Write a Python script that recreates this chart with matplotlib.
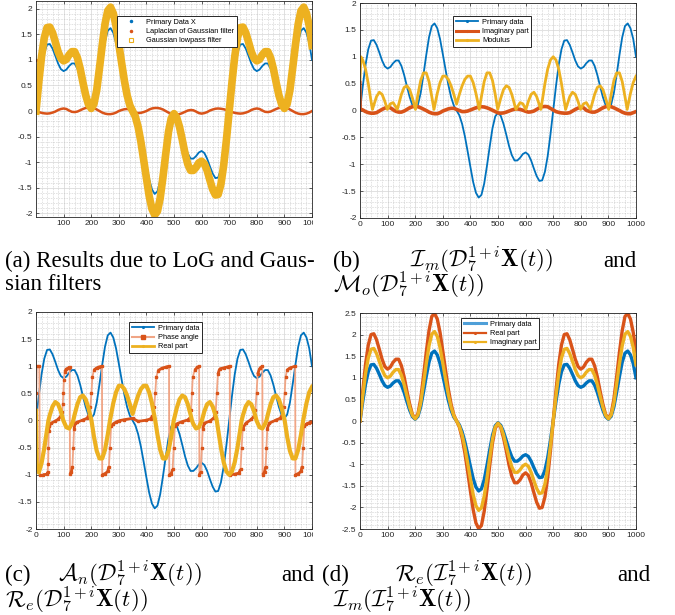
import numpy as np
import matplotlib
matplotlib.use("Agg")
import matplotlib.pyplot as plt
from matplotlib.lines import Line2D
from matplotlib.collections import LineCollection
from matplotlib.ticker import MultipleLocator, FuncFormatter
from matplotlib.transforms import Bbox, TransformedBbox

plt.rcParams['mathtext.fontset'] = 'cm'
plt.rcParams['axes.unicode_minus'] = False
plt.rcParams['font.family'] = ['Liberation Sans', 'DejaVu Sans']

# ---------------- data ----------------
T10 = list(range(0, 1001, 10))

primary = [
    0.00, 0.45, 0.85, 1.14, 1.30, 1.31, 1.22, 1.08, 0.93, 0.82,
    0.78, 0.81, 0.88, 0.93, 0.93, 0.83, 0.66, 0.45, 0.25, 0.10,
    0.04, 0.11, 0.33, 0.67, 1.03, 1.36, 1.57, 1.62, 1.53, 1.33,
    1.05, 0.76, 0.48, 0.25, 0.09, 0.00, -0.09, -0.25, -0.48, -0.76,
    -1.05, -1.33, -1.53, -1.62, -1.57, -1.36, -1.03, -0.67, -0.33, -0.11,
    -0.04, -0.10, -0.25, -0.45, -0.66, -0.83, -0.93, -0.93, -0.88, -0.81,
    -0.78, -0.82, -0.93, -1.08, -1.22, -1.31, -1.30, -1.14, -0.85, -0.45,
    0.00, 0.45, 0.85, 1.14, 1.30, 1.31, 1.22, 1.08, 0.93, 0.82,
    0.78, 0.81, 0.88, 0.93, 0.93, 0.83, 0.66, 0.45, 0.25, 0.10,
    0.04, 0.11, 0.33, 0.67, 1.03, 1.36, 1.57, 1.62, 1.53, 1.33,
    1.00]

gauss_lp = [
    0.00, 0.56, 1.06, 1.43, 1.63, 1.64, 1.53, 1.35, 1.16, 1.03,
    0.98, 1.01, 1.10, 1.16, 1.16, 1.04, 0.83, 0.56, 0.31, 0.13,
    0.05, 0.14, 0.41, 0.84, 1.29, 1.70, 1.96, 2.03, 1.91, 1.66,
    1.31, 0.95, 0.60, 0.31, 0.11, 0.00, -0.11, -0.31, -0.60, -0.95,
    -1.31, -1.66, -1.91, -2.03, -1.96, -1.70, -1.29, -0.84, -0.41, -0.14,
    -0.05, -0.13, -0.31, -0.56, -0.83, -1.04, -1.16, -1.16, -1.10, -1.01,
    -0.98, -1.03, -1.16, -1.35, -1.53, -1.64, -1.63, -1.43, -1.06, -0.56,
    0.00, 0.56, 1.06, 1.43, 1.63, 1.64, 1.53, 1.35, 1.16, 1.03,
    0.98, 1.01, 1.10, 1.16, 1.16, 1.04, 0.83, 0.56, 0.31, 0.13,
    0.05, 0.14, 0.41, 0.84, 1.29, 1.70, 1.96, 2.03, 1.91, 1.66,
    1.28]

log_filter = [
    0.00, -0.02, -0.035, -0.045, -0.05, -0.045, -0.03, -0.01, 0.02, 0.04,
    0.05, 0.04, 0.01, -0.015, -0.02, -0.01, 0.015, 0.04, 0.06, 0.07,
    0.07, 0.06, 0.03, 0.0, -0.03, -0.05, -0.06, -0.06, -0.05, -0.03,
    0.0, 0.02, 0.035, 0.04, 0.03, 0.0, -0.03, -0.04, -0.035, -0.02,
    0.0, 0.03, 0.05, 0.06, 0.06, 0.05, 0.03, 0.0, -0.03, -0.06,
    -0.07, -0.07, -0.06, -0.04, -0.015, 0.01, 0.02, 0.015, -0.01, -0.04,
    -0.05, -0.04, -0.02, 0.01, 0.03, 0.045, 0.05, 0.045, 0.035, 0.02,
    0.0, -0.02, -0.035, -0.045, -0.05, -0.045, -0.03, -0.01, 0.02, 0.04,
    0.05, 0.04, 0.01, -0.015, -0.02, -0.01, 0.015, 0.04, 0.06, 0.07,
    0.07, 0.06, 0.03, 0.0, -0.03, -0.05, -0.06, -0.06, -0.05, -0.03,
    0.0]
log_start_t = [1, 2]
log_start_v = [1.0, 0.44]

imag_b = [
    0.03, 0.01, -0.02, -0.04, -0.05, -0.05, -0.04, -0.01, 0.02, 0.045,
    0.06, 0.05, 0.015, -0.015, -0.03, -0.03, -0.01, 0.02, 0.05, 0.07,
    0.08, 0.07, 0.05, 0.025, 0.0, -0.03, -0.05, -0.06, -0.06, -0.04,
    -0.01, 0.01, 0.03, 0.04, 0.04, 0.02, 0.0, -0.02, -0.02, -0.01,
    0.01, 0.03, 0.05, 0.065, 0.07, 0.065, 0.05, 0.03, 0.005, -0.02,
    -0.045, -0.05, -0.045, -0.03, -0.01, 0.01, 0.025, 0.03, 0.02, 0.005,
    -0.015, -0.03, -0.025, -0.01, 0.02, 0.05, 0.07, 0.075, 0.07, 0.04,
    0.01, -0.02, -0.035, -0.045, -0.05, -0.05, -0.04, -0.01, 0.02, 0.045,
    0.06, 0.05, 0.005, -0.015, -0.03, -0.03, -0.01, 0.02, 0.05, 0.07,
    0.08, 0.07, 0.05, 0.025, 0.0, -0.03, -0.05, -0.06, -0.06, -0.04,
    -0.02]
imag_b_start_t = [0, 1, 3]
imag_b_start_v = [0.03, 0.55, 0.03]

t_mc = [0, 3, 10, 20, 30, 40, 45, 50, 60, 70, 80, 90, 99, 110, 120, 130, 135,
        140, 150, 160, 170, 180, 190, 201, 210, 220, 230, 240, 250, 260, 268,
        280, 290, 300, 310, 320, 330, 340, 350, 360, 370, 380, 390, 400, 410,
        420, 432, 440, 450, 460, 470, 480, 490, 499, 510, 520, 530, 540, 550,
        560, 565, 570, 580, 590, 601, 610, 620, 630, 640, 650, 655, 660, 670,
        680, 690, 700, 710, 720, 730, 740, 745, 750, 760, 770, 780, 790, 799,
        810, 820, 830, 835, 840, 850, 860, 870, 880, 890, 901, 910, 920, 930,
        940, 950, 960, 968, 980, 990, 1000]
modulus = [0.58, 1.0, 0.94, 0.77, 0.50, 0.17, 0.02, 0.10, 0.26, 0.34, 0.30,
           0.17, 0.02, 0.125, 0.147, 0.064, 0.02, 0.11, 0.30, 0.43, 0.46, 0.39,
           0.23, 0.02, 0.30, 0.56, 0.70, 0.70, 0.54, 0.26, 0.02, 0.32, 0.52,
           0.64, 0.64, 0.58, 0.46, 0.30, 0.12, 0.30, 0.46, 0.58, 0.64, 0.64,
           0.52, 0.32, 0.02, 0.26, 0.54, 0.70, 0.70, 0.56, 0.30, 0.02, 0.23,
           0.39, 0.46, 0.43, 0.30, 0.11, 0.02, 0.064, 0.147, 0.125, 0.02, 0.17,
           0.30, 0.34, 0.26, 0.10, 0.02, 0.17, 0.50, 0.77, 0.94, 1.0, 0.94,
           0.77, 0.50, 0.17, 0.02, 0.10, 0.26, 0.34, 0.30, 0.17, 0.02, 0.125,
           0.147, 0.064, 0.02, 0.11, 0.30, 0.43, 0.46, 0.39, 0.23, 0.02, 0.30,
           0.56, 0.70, 0.70, 0.54, 0.26, 0.02, 0.32, 0.52, 0.64]
real_c = [0.18, -0.80, -0.96, -0.79, -0.51, -0.17, 0.0, 0.10, 0.26, 0.34, 0.30,
          0.17, 0.0, -0.125, -0.147, -0.064, 0.0, 0.11, 0.30, 0.43, 0.46, 0.39,
          0.23, 0.0, -0.30, -0.56, -0.70, -0.70, -0.54, -0.26, 0.0, 0.32, 0.52,
          0.64, 0.64, 0.58, 0.46, 0.30, 0.12, 0.30, 0.46, 0.58, 0.64, 0.64,
          0.52, 0.32, 0.0, -0.26, -0.54, -0.70, -0.70, -0.56, -0.30, 0.0, 0.23,
          0.39, 0.46, 0.43, 0.30, 0.11, 0.0, -0.064, -0.147, -0.125, 0.0, 0.17,
          0.30, 0.34, 0.26, 0.10, 0.0, -0.17, -0.50, -0.77, -0.94, -1.0, -0.94,
          -0.77, -0.50, -0.17, 0.0, 0.10, 0.26, 0.34, 0.30, 0.17, 0.0, -0.125,
          -0.147, -0.064, 0.0, 0.11, 0.30, 0.43, 0.46, 0.39, 0.23, 0.0, -0.30,
          -0.56, -0.70, -0.70, -0.54, -0.26, 0.0, 0.32, 0.52, 0.62]

phase_t = [0, 1, 3, 12, 14, 25, 40, 42, 44, 45, 46, 48, 55, 70, 80, 90, 95, 97,
           99, 101, 104, 110, 118, 122, 123, 128, 132, 135, 138, 142, 150, 170,
           185, 192, 197, 201, 204, 210, 220, 230, 239, 240, 250, 260, 264, 268,
           272, 280, 290, 300, 320, 350, 370, 400, 415, 422, 428, 432, 436, 442,
           455, 470, 482, 483, 490, 495, 499, 503, 510, 530, 550, 558, 562, 565,
           568, 575, 585, 591, 592, 597, 601, 604, 610, 630, 645, 651, 655, 659,
           665, 680, 695, 702, 703, 720, 735, 741, 745, 749, 760, 780, 790, 795,
           799, 803, 810, 820, 821, 828, 832, 835, 838, 845, 870, 885, 892, 897,
           901, 904, 910, 920, 939, 940, 950, 960, 964, 968, 972, 980, 990, 1000]
phase = [-0.8, 0.5, 1.0, 1.0, -1.0, -1.0, -0.99, -0.95, -0.8, -0.5, -0.2, -0.1,
         -0.05, -0.01, 0.02, 0.08, 0.15, 0.3, 0.5, 0.75, 0.9, 0.95, 0.97, 0.99,
         -0.99, -0.95, -0.85, -0.5, -0.15, -0.05, -0.03, 0.01, 0.04, 0.1, 0.25,
         0.5, 0.8, 0.93, 0.97, 0.99, 1.0, -1.0, -0.98, -0.94, -0.85, -0.5, -0.1,
         -0.06, -0.03, -0.005, 0.015, 0.04, -0.015, 0.005, 0.03, 0.08, 0.25, 0.5,
         0.8, 0.92, 0.96, 0.985, 1.0, -1.0, -0.98, -0.9, -0.5, -0.1, -0.06, -0.02,
         0.01, 0.05, 0.2, 0.5, 0.8, 0.93, 0.98, 1.0, -1.0, -0.95, -0.5, -0.15,
         -0.05, -0.01, 0.05, 0.15, 0.5, 0.85, 0.95, 0.97, 0.99, 1.0, -1.0, -0.99,
         -0.97, -0.9, -0.5, -0.15, -0.05, 0.02, 0.08, 0.2, 0.5, 0.85, 0.96, 1.0,
         -1.0, -0.95, -0.85, -0.5, -0.15, -0.05, 0.01, 0.04, 0.1, 0.25, 0.5, 0.8,
         0.93, 0.97, 1.0, -1.0, -0.98, -0.94, -0.85, -0.5, -0.1, -0.06, -0.04,
         -0.02]

real_d = [
    0.00, 0.69, 1.31, 1.76, 2.00, 2.02, 1.88, 1.66, 1.43, 1.26,
    1.20, 1.25, 1.36, 1.43, 1.43, 1.28, 1.02, 0.69, 0.39, 0.15,
    0.06, 0.17, 0.51, 1.03, 1.59, 2.09, 2.42, 2.49, 2.36, 2.05,
    1.62, 1.17, 0.74, 0.39, 0.14, 0.00, -0.14, -0.39, -0.74, -1.17,
    -1.62, -2.05, -2.36, -2.49, -2.42, -2.09, -1.59, -1.03, -0.51, -0.17,
    -0.06, -0.15, -0.39, -0.69, -1.02, -1.28, -1.43, -1.43, -1.36, -1.25,
    -1.20, -1.26, -1.43, -1.66, -1.88, -2.02, -2.00, -1.76, -1.31, -0.69,
    0.00, 0.69, 1.31, 1.76, 2.00, 2.02, 1.88, 1.66, 1.43, 1.26,
    1.20, 1.25, 1.36, 1.43, 1.43, 1.28, 1.02, 0.69, 0.39, 0.15,
    0.06, 0.17, 0.51, 1.03, 1.59, 2.09, 2.42, 2.49, 2.36, 2.05,
    1.60]

imag_d = [
    0.00, 0.58, 1.09, 1.46, 1.66, 1.68, 1.56, 1.38, 1.19, 1.05,
    1.00, 1.04, 1.13, 1.19, 1.19, 1.06, 0.84, 0.58, 0.32, 0.13,
    0.05, 0.14, 0.42, 0.86, 1.32, 1.74, 2.01, 2.07, 1.96, 1.70,
    1.34, 0.97, 0.61, 0.32, 0.12, 0.00, -0.12, -0.32, -0.61, -0.97,
    -1.34, -1.70, -1.96, -2.07, -2.01, -1.74, -1.32, -0.86, -0.42, -0.14,
    -0.05, -0.13, -0.32, -0.58, -0.84, -1.06, -1.19, -1.19, -1.13, -1.04,
    -1.00, -1.05, -1.19, -1.38, -1.56, -1.68, -1.66, -1.46, -1.09, -0.58,
    0.00, 0.58, 1.09, 1.46, 1.66, 1.68, 1.56, 1.38, 1.19, 1.05,
    1.00, 1.04, 1.13, 1.19, 1.19, 1.06, 0.84, 0.58, 0.32, 0.13,
    0.05, 0.14, 0.42, 0.86, 1.32, 1.74, 2.01, 2.07, 1.96, 1.70,
    1.30]

xticks_full = list(range(0, 1001, 100))
xticks_a = list(range(100, 1001, 100))
yticks_2 = [-2, -1.5, -1, -0.5, 0, 0.5, 1, 1.5, 2]
yticks_25 = [-2.5, -2, -1.5, -1, -0.5, 0, 0.5, 1, 1.5, 2, 2.5]

legend_a = ['Primary Data X', 'Laplacian of Gaussian filter', 'Gaussian lowpass filter']
legend_b = ['Primary data', 'Imaginary part', 'Modulus']
legend_c = ['Primary data', 'Phase angle', 'Real part']
legend_d = ['Primary data', 'Real part', 'Imaginary part']

# ---------------- figure ----------------
BLUE, RED, YEL = '#0072BD', '#D95319', '#EDB120'
RED_LIGHT = '#F0A585'
W, H = 675, 615
fig = plt.figure(figsize=(W / 100, H / 100), dpi=100)


def make_ax(l, r, t, b):
    return fig.add_axes([l / W, 1 - b / H, (r - l) / W, (b - t) / H])


fmt = FuncFormatter(lambda v, p: '%g' % round(v, 2))


def style(ax, ylim, yticks, xticks):
    ax.set_xlim(0, 1000)
    ax.set_ylim(*ylim)
    ax.set_xticks(xticks)
    ax.set_yticks(yticks)
    ax.xaxis.set_major_formatter(fmt)
    ax.yaxis.set_major_formatter(fmt)
    ax.xaxis.set_minor_locator(MultipleLocator(20))
    ax.yaxis.set_minor_locator(MultipleLocator(0.1))
    ax.grid(True, which='minor', color='#b8b8b8', lw=0.45, ls=(0, (1, 1.6)))
    ax.grid(True, which='major', color='#d4d4d4', lw=0.5, ls='-')
    ax.set_axisbelow(True)
    ax.tick_params(which='both', direction='in', top=True, right=True)
    ax.tick_params(which='major', length=2.5, width=0.5, labelsize=6,
                   labelcolor='#262626', color='#262626', pad=2.5)
    ax.tick_params(which='minor', length=0)
    for s in ax.spines.values():
        s.set_color('#262626')
        s.set_linewidth(0.6)


def legend(ax, handles, labels, x, y):
    leg = ax.legend(handles, labels, loc='upper left',
                    bbox_to_anchor=(x / W, 1 - y / H), bbox_transform=fig.transFigure,
                    fontsize=5.3, frameon=True, fancybox=False, framealpha=1,
                    edgecolor='#262626', borderpad=0.35, labelspacing=0.3,
                    handlelength=3.0, handletextpad=0.6, borderaxespad=0)
    leg.get_frame().set_linewidth(0.7)
    leg.set_zorder(10)


# (a)
ax_a = make_ax(36, 312, 1, 217)
style(ax_a, (-2.07, 2.15), yticks_2, xticks_a)
ax_a.plot(T10, primary, color=BLUE, lw=1.3, zorder=2)
ax_a.plot(T10, log_filter, color=RED, lw=1.8, zorder=2.1)
ax_a.plot(log_start_t, log_start_v, ls='none', marker='.', ms=3, color=RED, zorder=2.1)
ax_a.plot(T10, gauss_lp, color=YEL, lw=5.5, zorder=2.2)
legend(ax_a, [Line2D([], [], ls='none', marker='.', ms=3, color=BLUE),
              Line2D([], [], ls='none', marker='.', ms=3, color=RED),
              Line2D([], [], ls='none', marker='s', ms=2.5, mfc='none', mec=YEL, mew=0.8)],
       legend_a, 117, 16)

# (b)
ax_b = make_ax(360, 636, 3, 218)
style(ax_b, (-2, 2), yticks_2, xticks_full)
ax_b.plot(T10, primary, color=BLUE, lw=1.3, zorder=2)
ax_b.plot(T10, imag_b, color=RED, lw=2.6, zorder=2.1)
ax_b.plot(imag_b_start_t, imag_b_start_v, color=RED, lw=1.5, zorder=2.1)
ax_b.plot(t_mc, modulus, color=YEL, lw=2.0, zorder=2.2)
legend(ax_b, [Line2D([], [], color=BLUE, lw=1.3, marker='.', ms=2.5),
              Line2D([], [], color=RED, lw=2.2, marker='.', ms=2.5),
              Line2D([], [], color=YEL, lw=2.0, marker='.', ms=2.5)],
       legend_b, 453, 16)

# (c)
ax_c = make_ax(36, 312, 312, 529)
style(ax_c, (-2, 2), yticks_2, xticks_full)
ax_c.plot(T10, primary, color=BLUE, lw=1.3, zorder=2)
ax_c.plot(phase_t, phase, color=RED_LIGHT, lw=1.3, zorder=2.1)
segs = [((phase_t[i], phase[i]), (phase_t[i + 1], phase[i + 1]))
        for i in range(len(phase_t) - 1) if abs(phase[i + 1] - phase[i]) < 0.12]
ax_c.add_collection(LineCollection(segs, colors=RED, linewidths=2.0, zorder=2.15))
ax_c.plot(phase_t, phase, ls='none', marker='s', ms=2.0, color=RED, zorder=2.2)
ax_c.plot(t_mc, real_c, color=YEL, lw=3.0, zorder=2.3)
legend(ax_c, [Line2D([], [], color=BLUE, lw=1.3, marker='.', ms=2.5),
              Line2D([], [], color=RED_LIGHT, lw=1.5, marker='s', ms=2.5, mfc=RED, mec=RED),
              Line2D([], [], color=YEL, lw=2.0, marker='.', ms=2.5)],
       legend_c, 129, 322)

# (d)
ax_d = make_ax(360, 636, 313, 529)
style(ax_d, (-2.5, 2.5), yticks_25, xticks_full)
ax_d.plot(T10, primary, color=BLUE, lw=2.4, zorder=2)
ax_d.plot(T10, real_d, color=RED, lw=2.4, zorder=2.1)
ax_d.plot(T10, imag_d, color=YEL, lw=2.4, zorder=2.2)
legend(ax_d, [Line2D([], [], color='#4F9FD8', lw=2.2, marker='.', ms=2.5),
              Line2D([], [], color=RED, lw=1.6, marker='.', ms=2.5),
              Line2D([], [], color=YEL, lw=1.6, marker='.', ms=2.5)],
       legend_d, 461, 318)

# clip the tick labels of the left column at the sub-figure edge
clip = TransformedBbox(Bbox.from_extents(0, 0, 313 / W, 1), fig.transFigure)
for ax in (ax_a, ax_c):
    for tk in ax.xaxis.get_major_ticks():
        tk.label1.set_clip_box(clip)
        tk.label1.set_clip_on(True)

# ---------------- captions ----------------
SERIF = ['Liberation Serif', 'DejaVu Serif']
CAP = 16.6


def cap(x, y, s, ha='left'):
    fig.text(x / W, 1 - y / H, s, ha=ha, va='baseline', fontsize=CAP, family=SERIF)


cap(5, 267, '(a) Results due to LoG and Gaus-')
cap(5, 290, 'sian filters')
cap(333, 267, '(b)')
cap(410, 267, r'$\mathcal{I}_m(\mathcal{D}_7^{1+i}\mathbf{X}(t))$')
cap(637, 267, 'and', ha='right')
cap(333, 292, r'$\mathcal{M}_o(\mathcal{D}_7^{1+i}\mathbf{X}(t))$')

cap(5, 581, '(c)')
cap(58, 581, r'$\mathcal{A}_n(\mathcal{D}_7^{1+i}\mathbf{X}(t))$')
cap(314, 581, 'and', ha='right')
cap(322, 581, '(d)')
cap(395, 581, r'$\mathcal{R}_e(\mathcal{I}_7^{1+i}\mathbf{X}(t))$')
cap(650, 581, 'and', ha='right')
cap(5, 607, r'$\mathcal{R}_e(\mathcal{D}_7^{1+i}\mathbf{X}(t))$')
cap(333, 607, r'$\mathcal{I}_m(\mathcal{I}_7^{1+i}\mathbf{X}(t))$')

fig.savefig('out.png', dpi=100, facecolor='white')
